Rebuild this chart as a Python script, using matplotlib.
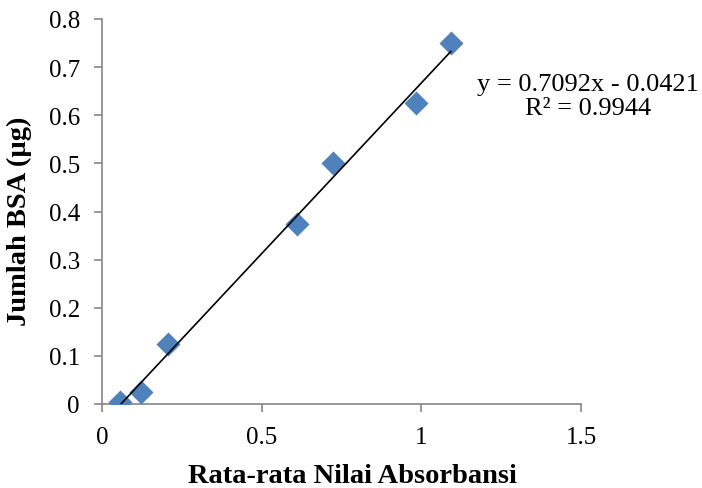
import numpy as np
import matplotlib
matplotlib.use("Agg")
import matplotlib.pyplot as plt

# data
absorbansi = [0.056, 0.121, 0.208, 0.610, 0.722, 0.982, 1.092]
jumlah_bsa = [0.005, 0.025, 0.125, 0.375, 0.500, 0.625, 0.750]
slope = 0.7092
intercept = -0.0421
r2 = 0.9944

plt.rcParams['font.family'] = ['Liberation Serif', 'DejaVu Serif']

fig = plt.figure(figsize=(7.02, 4.89), dpi=100)
ax = fig.add_axes([102/702, 1 - 405/489, (581-102)/702, (405-20)/489])

ax.scatter(absorbansi, jumlah_bsa, marker='D', s=150, color='#4F81BD', zorder=3, linewidths=0)

# linear trendline
xs = np.array([min(absorbansi), max(absorbansi)])
ax.plot(xs, slope * xs + intercept, color='black', lw=1.2, zorder=4)

ax.set_xlim(0, 1.5)
ax.set_ylim(0, 0.8)
ax.set_xticks([0, 0.5, 1, 1.5])
ax.set_xticklabels(['0', '0.5', '1', '1.5'])
ax.set_yticks(np.arange(0, 0.81, 0.1))
ax.set_yticklabels(['0', '0.1', '0.2', '0.3', '0.4', '0.5', '0.6', '0.7', '0.8'])

for s in ['top', 'right']:
    ax.spines[s].set_visible(False)
for s in ['left', 'bottom']:
    ax.spines[s].set_color('#868686')
    ax.spines[s].set_linewidth(1.2)
ax.tick_params(colors='#868686', labelcolor='black', labelsize=18, length=6, width=1.2, pad=10)

fig.text(352/702, 1 - 483/489, 'Rata-rata Nilai Absorbansi', fontsize=20.5,
         fontweight='bold', ha='center', va='baseline')
fig.text(19/702, 1 - 221/489, 'Jumlah BSA (µg)', fontsize=20.5, fontweight='bold',
         rotation=90, ha='center', va='center')

sign = '-' if intercept < 0 else '+'
fig.text(588/702, 1 - 97/489,
         'y = %.4fx %s %.4f\nR² = %.4f' % (slope, sign, abs(intercept), r2),
         ha='center', va='center', fontsize=19, linespacing=1.13)

fig.savefig('out.png', dpi=100, facecolor='white')
